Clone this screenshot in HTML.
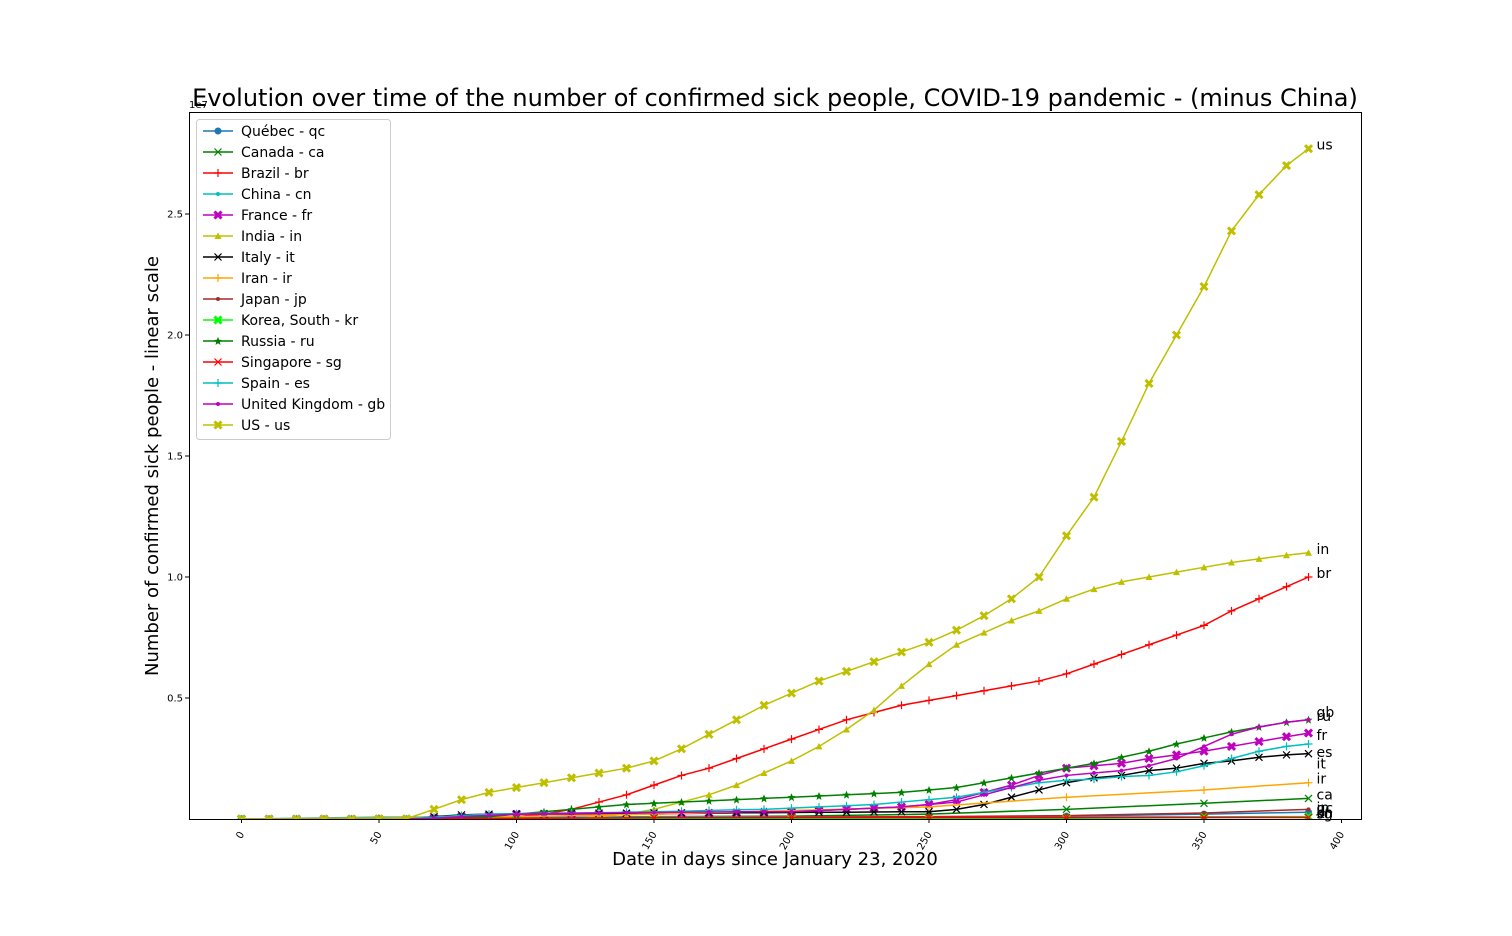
<!DOCTYPE html>
<html><head><meta charset="utf-8"><style>
body{margin:0;background:#fff;}
svg{display:block;font-family:"DejaVu Sans","Liberation Sans",sans-serif;}
</style></head><body>
<svg id="chart" width="1512" height="936" xmlns="http://www.w3.org/2000/svg">
<rect width="1512" height="936" fill="#fff"/>
<text x="775" y="106" font-size="24" text-anchor="middle" fill="#000">Evolution over time of the number of confirmed sick people, COVID-19 pandemic - (minus China)</text>
<text transform="translate(158,466) rotate(-90)" font-size="18" text-anchor="middle">Number of confirmed sick people - linear scale</text>
<text x="775" y="865" font-size="18" text-anchor="middle">Date in days since January 23, 2020</text>
<text x="189" y="108" font-size="10">1e7</text>
<g id="ticks"></g>
<g id="series" clip-path="url(#clip)"></g>
<clipPath id="clip"><rect x="189" y="112" width="1172" height="707"/></clipPath>
<rect x="189.5" y="112.5" width="1172" height="707" fill="none" stroke="#000" stroke-width="1"/>
<g id="labels"></g>
<g id="legend"></g>
</svg>
<script>
const daysMain=[0,10,20,30,40,50,60,70,80,90,100,110,120,130,140,150,160,170,180,190,200,210,220,230,240,250,260,270,280,290,300,310,320,330,340,350,360,370,380,388];
const daysMinor=[0,50,100,150,200,250,300,350,388];
const xTicks=[0,50,100,150,200,250,300,350,400];
const yTicks=[0.5,1.0,1.5,2.0,2.5];
const yTickLabels=["0.5","1.0","1.5","2.0","2.5"];
const usVals=[0,0,0,0,0,0,0.001,0.04,0.08,0.11,0.13,0.15,0.17,0.19,0.21,0.24,0.29,0.35,0.41,0.47,0.52,0.57,0.61,0.65,0.69,0.73,0.78,0.84,0.91,1.0,1.17,1.33,1.56,1.8,2.0,2.2,2.43,2.58,2.70,2.77];
const inVals=[0,0,0,0,0,0,0,0,0,0,0,0,0,0.01,0.02,0.04,0.07,0.1,0.14,0.19,0.24,0.3,0.37,0.45,0.55,0.64,0.72,0.77,0.82,0.86,0.91,0.95,0.98,1.0,1.02,1.04,1.06,1.075,1.09,1.1];
const brVals=[0,0,0,0,0,0,0,0,0,0,0.01,0.02,0.04,0.07,0.1,0.14,0.18,0.21,0.25,0.29,0.33,0.37,0.41,0.44,0.47,0.49,0.51,0.53,0.55,0.57,0.6,0.64,0.68,0.72,0.76,0.8,0.86,0.91,0.96,1.0];
const ruVals=[0,0,0,0,0,0,0,0,0.005,0.01,0.02,0.03,0.04,0.05,0.06,0.065,0.07,0.075,0.08,0.085,0.09,0.095,0.1,0.105,0.11,0.12,0.13,0.15,0.17,0.19,0.21,0.23,0.255,0.28,0.31,0.335,0.36,0.38,0.4,0.41];
const gbVals=[0,0,0,0,0,0,0,0.003,0.01,0.015,0.02,0.022,0.024,0.025,0.026,0.027,0.028,0.029,0.03,0.03,0.03,0.035,0.04,0.045,0.05,0.06,0.07,0.1,0.13,0.16,0.18,0.19,0.2,0.22,0.25,0.3,0.35,0.38,0.4,0.41];
const frVals=[0,0,0,0,0,0,0,0.005,0.01,0.015,0.02,0.02,0.02,0.02,0.02,0.02,0.022,0.024,0.026,0.028,0.03,0.035,0.04,0.045,0.05,0.06,0.08,0.11,0.14,0.18,0.21,0.22,0.23,0.25,0.265,0.28,0.3,0.32,0.34,0.355];
const esVals=[0,0,0,0,0,0,0,0.008,0.015,0.02,0.022,0.024,0.025,0.026,0.028,0.03,0.032,0.035,0.038,0.04,0.045,0.05,0.055,0.06,0.07,0.08,0.09,0.11,0.13,0.15,0.16,0.165,0.175,0.18,0.195,0.22,0.25,0.28,0.3,0.31];
const itVals=[0,0,0,0,0,0,0,0.01,0.017,0.02,0.021,0.022,0.023,0.024,0.024,0.025,0.025,0.025,0.026,0.026,0.027,0.028,0.028,0.029,0.03,0.03,0.04,0.06,0.09,0.12,0.15,0.17,0.18,0.2,0.21,0.23,0.24,0.255,0.265,0.27];
const irVals=[0,0.004,0.01,0.02,0.035,0.05,0.09,0.12,0.15];
const caVals=[0,0.001,0.005,0.01,0.012,0.02,0.04,0.065,0.085];
const jpVals=[0,0,0.002,0.003,0.008,0.01,0.014,0.025,0.04];
const qcVals=[0,0,0.005,0.006,0.007,0.008,0.012,0.02,0.028];
const krVals=[0,0,0.001,0.001,0.002,0.002,0.003,0.006,0.009];
const sgVals=[0,0,0.003,0.005,0.006,0.006,0.006,0.006,0.006];
const cnVals=[0,0.008,0.008,0.008,0.009,0.009,0.009,0.009,0.01];

const X0=241.5,XS=2.75,Y0=819,YS=242;
const xPos=d=>X0+d*XS, yPos=v=>Y0-v*YS;
const NS="http://www.w3.org/2000/svg";
function mk(tag,attrs,parent){const e=document.createElementNS(NS,tag);for(const k in attrs)e.setAttribute(k,attrs[k]);parent.appendChild(e);return e;}

const series=[
 {code:"qc",name:"Québec - qc",color:"#1f77b4",m:"o",days:daysMinor,vals:qcVals},
 {code:"ca",name:"Canada - ca",color:"#008000",m:"x",days:daysMinor,vals:caVals},
 {code:"br",name:"Brazil - br",color:"#ff0000",m:"+",days:daysMain,vals:brVals},
 {code:"cn",name:"China - cn",color:"#00bfbf",m:".",days:daysMinor,vals:cnVals},
 {code:"fr",name:"France - fr",color:"#bf00bf",m:"X",days:daysMain,vals:frVals},
 {code:"in",name:"India - in",color:"#bfbf00",m:"^",days:daysMain,vals:inVals},
 {code:"it",name:"Italy - it",color:"#000000",m:"x",days:daysMain,vals:itVals},
 {code:"ir",name:"Iran - ir",color:"#ffa500",m:"+",days:daysMinor,vals:irVals},
 {code:"jp",name:"Japan - jp",color:"#a52a2a",m:".",days:daysMinor,vals:jpVals},
 {code:"kr",name:"Korea, South - kr",color:"#00ff00",m:"X",days:daysMinor,vals:krVals},
 {code:"ru",name:"Russia - ru",color:"#008000",m:"*",days:daysMain,vals:ruVals},
 {code:"sg",name:"Singapore - sg",color:"#ff0000",m:"x",days:daysMinor,vals:sgVals},
 {code:"es",name:"Spain - es",color:"#00bfbf",m:"+",days:daysMain,vals:esVals},
 {code:"gb",name:"United Kingdom - gb",color:"#bf00bf",m:".",days:daysMain,vals:gbVals},
 {code:"us",name:"US - us",color:"#bfbf00",m:"X",days:daysMain,vals:usVals}
];
const labelOffsets={gb:-4,ru:0,fr:6,es:12,it:14,ir:0,ca:0,jp:2,kr:0,qc:0,sg:0,cn:0,us:0,in:0,br:0};

function marker(m,x,y,c,parent){
 if(m==="o"){mk("circle",{cx:x,cy:y,r:3.5,fill:c},parent);}
 else if(m==="."){mk("circle",{cx:x,cy:y,r:2,fill:c},parent);}
 else if(m==="x"){mk("path",{d:`M${x-3.5} ${y-3.5}L${x+3.5} ${y+3.5}M${x-3.5} ${y+3.5}L${x+3.5} ${y-3.5}`,stroke:c,"stroke-width":1.2,fill:"none"},parent);}
 else if(m==="+"){mk("path",{d:`M${x-4} ${y}L${x+4} ${y}M${x} ${y-4}L${x} ${y+4}`,stroke:c,"stroke-width":1.2},parent);}
 else if(m==="X"){mk("path",{d:`M${x-3.5} ${y-3.5}L${x+3.5} ${y+3.5}M${x-3.5} ${y+3.5}L${x+3.5} ${y-3.5}`,stroke:c,"stroke-width":3},parent);}
 else if(m==="^"){mk("path",{d:`M${x} ${y-3.5}L${x+3.5} ${y+3}L${x-3.5} ${y+3}Z`,fill:c},parent);}
 else if(m==="*"){mk("path",{d:`M${x} ${y-4}L${x+1.2} ${y-1.2}L${x+4} ${y-1}L${x+1.8} ${y+1}L${x+2.5} ${y+4}L${x} ${y+2.2}L${x-2.5} ${y+4}L${x-1.8} ${y+1}L${x-4} ${y-1}L${x-1.2} ${y-1.2}Z`,fill:c},parent);}
}

const ticks=document.getElementById("ticks");
xTicks.forEach(t=>{
 const x=xPos(t);
 const l=mk("line",{x1:x,y1:819,x2:x,y2:823,stroke:"#000"},ticks);
 
 
 const tx=mk("text",{x:x+3,y:834,"font-size":10,"text-anchor":"end",transform:`rotate(-60 ${x+3} 834)`},ticks);
 
 
 tx.textContent=t;
});
yTicks.forEach((t,i)=>{
 const y=yPos(t);
 const l=mk("line",{x1:185,y1:y,x2:189,y2:y,stroke:"#000"},ticks);
 
 
 const tx=mk("text",{x:183,y:y+3.5,"font-size":10,"text-anchor":"end"},ticks);
 
 
 tx.textContent=yTickLabels[i];
});

const sg=document.getElementById("series"),lg=document.getElementById("labels"),leg=document.getElementById("legend");
series.forEach(s=>{
 const g=mk("g",{},sg);
 
 
 const pts=s.days.map((d,i)=>xPos(d)+","+yPos(s.vals[i])).join(" ");
 mk("polyline",{points:pts,fill:"none",stroke:s.color,"stroke-width":1.5},g);
 s.days.forEach((d,i)=>marker(s.m,xPos(d),yPos(s.vals[i]),s.color,g));
 const lastV=s.vals[s.vals.length-1],lastD=s.days[s.days.length-1];
 const t=mk("text",{x:xPos(lastD)+8,y:yPos(lastV)+1+(labelOffsets[s.code]||0),"font-size":14},lg);
 
 
 t.textContent=s.code;
});

const box=mk("rect",{x:196.5,y:119.5,width:194,height:320,rx:3,fill:"#fff","fill-opacity":0.8,stroke:"#ccc"},leg);


series.forEach((s,i)=>{
 const y=131+i*21;
 const g=mk("g",{},leg);
 
 
 mk("line",{x1:203,y1:y,x2:233,y2:y,stroke:s.color,"stroke-width":1.5},g);
 marker(s.m,218,y,s.color,g);
 const t=mk("text",{x:241,y:y+5,"font-size":14},g);
 t.textContent=s.name;
});
</script>
</body></html>
